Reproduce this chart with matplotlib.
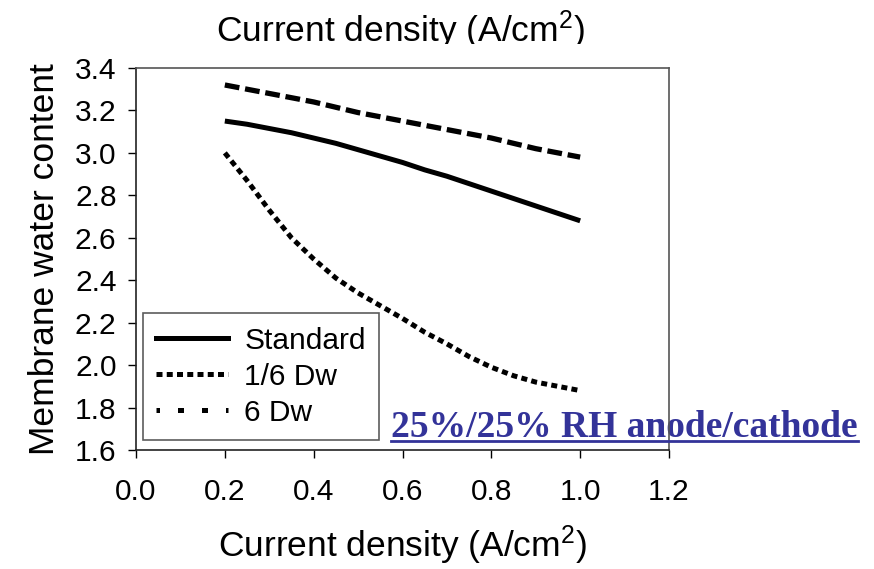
import matplotlib
matplotlib.use("Agg")
import matplotlib.pyplot as plt
from matplotlib.lines import Line2D
from matplotlib.patches import Rectangle

plt.rcParams['font.family'] = ['Liberation Sans', 'DejaVu Sans']
plt.rcParams['mathtext.fontset'] = 'custom'
plt.rcParams['mathtext.rm'] = 'Liberation Sans'
plt.rcParams['mathtext.it'] = 'Liberation Sans'

# Data
current_density = [0.2, 0.25, 0.3, 0.35, 0.4, 0.45, 0.5, 0.55, 0.6,
                   0.65, 0.7, 0.75, 0.8, 0.85, 0.9, 0.95, 1.0]
standard = [3.15, 3.135, 3.115, 3.095, 3.07, 3.045, 3.015, 2.985, 2.955,
            2.92, 2.89, 2.855, 2.82, 2.785, 2.75, 2.715, 2.68]
dw_sixth = [3.00, 2.87, 2.73, 2.60, 2.50, 2.41, 2.34, 2.28, 2.22,
            2.155, 2.10, 2.04, 1.99, 1.95, 1.92, 1.90, 1.88]
dw_six = [3.32, 3.30, 3.28, 3.26, 3.24, 3.215, 3.19, 3.17, 3.15,
          3.13, 3.11, 3.09, 3.07, 3.045, 3.02, 3.00, 2.98]
legend_labels = ["Standard", "1/6 Dw", "6 Dw"]
xticks = [0.0, 0.2, 0.4, 0.6, 0.8, 1.0, 1.2]
yticks = [1.6, 1.8, 2.0, 2.2, 2.4, 2.6, 2.8, 3.0, 3.2, 3.4]
xlabel = "Current density (A/cm$^2$)"
ylabel = "Membrane water content"
note = "25%/25% RH anode/cathode"

W, H = 874, 569
fig = plt.figure(figsize=(W / 100, H / 100), dpi=100)
ax = fig.add_axes([136 / W, 1 - 450 / H, (669 - 136) / W, (450 - 68) / H])

dense = (0, (1.2, 0.85))
dashed = (0, (2.8, 1.1))
ax.plot(current_density, standard, color='black', lw=3.6, solid_capstyle='butt')
ax.plot(current_density, dw_sixth, color='black', lw=3.6, linestyle=dense)
ax.plot(current_density, dw_six, color='black', lw=3.8, linestyle=dashed)

ax.set_xlim(0.0, 1.2)
ax.set_ylim(1.6, 3.4)
ax.set_xticks(xticks)
ax.set_yticks(yticks)
ax.set_xticklabels([f"{v:.1f}" for v in xticks])
ax.set_yticklabels([f"{v:.1f}" for v in yticks])
ax.tick_params(axis='both', direction='out', length=6, width=1, labelsize=21.5)
ax.tick_params(axis='x', pad=14)
ax.tick_params(axis='y', pad=8)
ax.set_xlabel(xlabel, fontsize=25.5, labelpad=13)
ax.set_ylabel(ylabel, fontsize=25.5, labelpad=10)
for s in ['left', 'bottom']:
    ax.spines[s].set_color('#222222')
for s in ['top', 'right']:
    ax.spines[s].set_color('#555555')
for s in ax.spines.values():
    s.set_linewidth(1.2)

handles = [
    Line2D([], [], color='black', lw=3.6),
    Line2D([], [], color='black', lw=3.6, linestyle=dense),
    Line2D([], [], color='black', lw=3.6, linestyle=(0.5, (1.2, 3.6))),
]
leg = ax.legend(handles, legend_labels, loc='lower left', bbox_to_anchor=(0.013, 0.026),
                fontsize=21.5, frameon=True, fancybox=False, edgecolor='#333333',
                handlelength=2.4, handletextpad=0.55, borderpad=0.45, labelspacing=0.27,
                borderaxespad=0)
leg.get_frame().set_linewidth(1.2)

# Note text
t = ax.text(391 / W, 1 - 437 / H, note, transform=fig.transFigure, fontsize=27,
            family='Liberation Serif', weight='bold', color='#333399',
            ha='left', va='baseline', zorder=1, clip_on=False)

# Top partially-hidden title (bottom part hidden by a white band)
tt = fig.text(400 / W, 1 - 42 / H, xlabel, fontsize=25.5, ha='center', va='baseline', zorder=1)
fig.patches.append(Rectangle((0, 1 - 57 / H), 1, 13 / H, transform=fig.transFigure,
                             facecolor='white', edgecolor='none', zorder=5))

# underline for the note
fig.canvas.draw()
bb = t.get_window_extent()
uy = H - 441
fig.add_artist(Line2D([bb.x0, bb.x1], [uy, uy], transform=None, color='#333399', lw=2))

fig.savefig("out.png", dpi=100)
